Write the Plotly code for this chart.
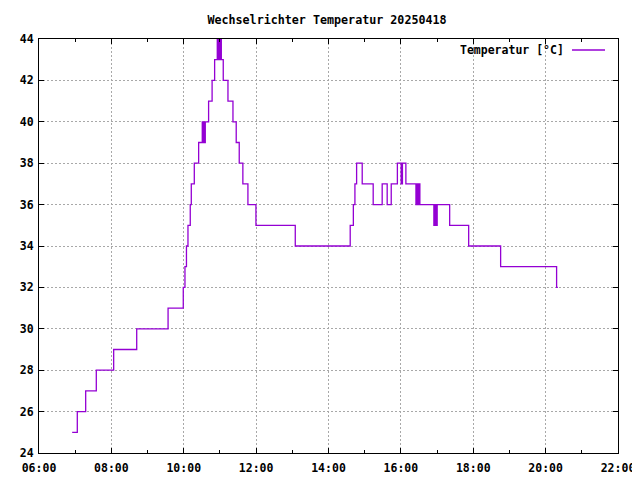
import plotly.graph_objects as go

DAY = "2025-04-18"

times = [
    "06:55:00", "07:03:30", "07:17:24", "07:35:00", "08:03:48", "08:42:00",
    "09:34:00", "09:59:12", "10:02:00", "10:04:30", "10:07:00", "10:10:48",
    "10:12:30", "10:17:30", "10:24:42", "10:30:42", "10:32:00", "10:33:30",
    "10:34:30", "10:35:42", "10:41:12", "10:47:00", "10:51:12", "10:55:36",
    "10:57:30", "10:58:24", "10:59:12", "11:00:00", "11:00:48", "11:01:30",
    "11:02:18", "11:05:30", "11:13:18", "11:21:36", "11:27:00", "11:32:00",
    "11:38:00", "11:46:24", "11:59:42", "13:04:54", "14:36:00", "14:41:12",
    "14:43:48", "14:46:36", "14:55:54", "15:14:06", "15:29:00", "15:37:18",
    "15:44:00", "15:54:12", "16:00:30", "16:01:12", "16:01:54", "16:02:36",
    "16:08:18", "16:25:00", "16:26:00", "16:27:00", "16:28:00", "16:29:00",
    "16:30:00", "16:31:30", "16:54:42", "16:55:30", "16:56:12", "16:57:00",
    "16:57:48", "16:58:36", "16:59:24", "17:00:12", "17:20:54", "17:52:24",
    "18:45:24", "20:18:12", "20:20:18",
]
temps = [
    25, 26, 27, 28, 29, 30,
    31, 32, 33, 34, 35, 36,
    37, 38, 39, 40, 39, 40,
    39, 40, 41, 42, 43, 44,
    43, 44, 43, 44, 43, 44,
    43, 42, 41, 40, 39, 38,
    37, 36, 35, 34, 35, 36,
    37, 38, 37, 36, 37, 36,
    37, 38, 37, 38, 37, 38,
    37, 36, 37, 36, 37, 36,
    37, 36, 35, 36, 35, 36,
    35, 36, 35, 36, 35, 34,
    33, 32, 32,
]

title_text = "Wechselrichter Temperatur 20250418"
series_name = "Temperatur [°C]"
x_ticks = ["06:00", "08:00", "10:00", "12:00", "14:00", "16:00", "18:00", "20:00", "22:00"]
y_min, y_max, y_step = 24, 44, 2

xs = [f"{DAY} {t}" for t in times]
FONT = "DejaVu Sans Mono"
COLOR = "#9400d3"
OFF = 8  # page body margin of the browser

L, T = 39 - OFF, 39 - OFF
R = 640 + OFF - 618
B = 480 + OFF - 453
PW, PH = 640 - L - R, 480 - T - B

fig = go.Figure()
fig.add_trace(go.Scatter(
    x=xs, y=temps, mode="lines", line=dict(color=COLOR, width=1.3, shape="hv"),
    name=series_name, showlegend=False,
))

fig.update_layout(
    width=640, height=480,
    margin=dict(l=L, r=R, t=T, b=B, autoexpand=False),
    paper_bgcolor="white", plot_bgcolor="white",
    font=dict(family=FONT, size=11.5, color="black"),
    title=dict(text=title_text, xref="container", x=(327 - OFF) / 640, xanchor="center",
               yref="container", y=1 - (20 - OFF) / 480, yanchor="middle",
               font=dict(family=FONT, size=11.7, weight="bold")),
)

axis_common = dict(
    automargin=False,
    showline=True, linecolor="black", linewidth=1, mirror="allticks",
    ticks="inside", ticklen=5, tickcolor="black",
    showgrid=True, gridcolor="#a8a8a8", gridwidth=1, griddash="2px,2px",
    zeroline=False, tickfont=dict(family=FONT, size=11.5, weight="bold"),
)

fig.update_xaxes(
    type="date",
    range=[f"{DAY} {x_ticks[0]}", f"{DAY} {x_ticks[-1]}"],
    tickvals=[f"{DAY} {t}" for t in x_ticks], ticktext=x_ticks,
    minor=dict(dtick=3600000, ticks="inside", ticklen=3, tickcolor="black", showgrid=False),
    ticklabelstandoff=4,
    **axis_common,
)
fig.update_yaxes(
    range=[y_min, y_max], dtick=y_step, tick0=y_min,
    ticklabelstandoff=2,
    **axis_common,
)

# gnuplot-style key: text then line sample, top right inside
ky = 1 - (50 - 39) / PH
fig.add_annotation(
    xref="paper", yref="paper", x=(566 - 39) / PW, y=ky,
    xanchor="right", yanchor="middle", showarrow=False,
    text=series_name, font=dict(family=FONT, size=11.5, weight="bold", color="black"),
)
fig.add_shape(
    type="line", xref="paper", yref="paper",
    x0=(572 - 39) / PW, x1=(605 - 39) / PW, y0=ky, y1=ky,
    line=dict(color=COLOR, width=1.3),
)

fig.write_html("out.html")
